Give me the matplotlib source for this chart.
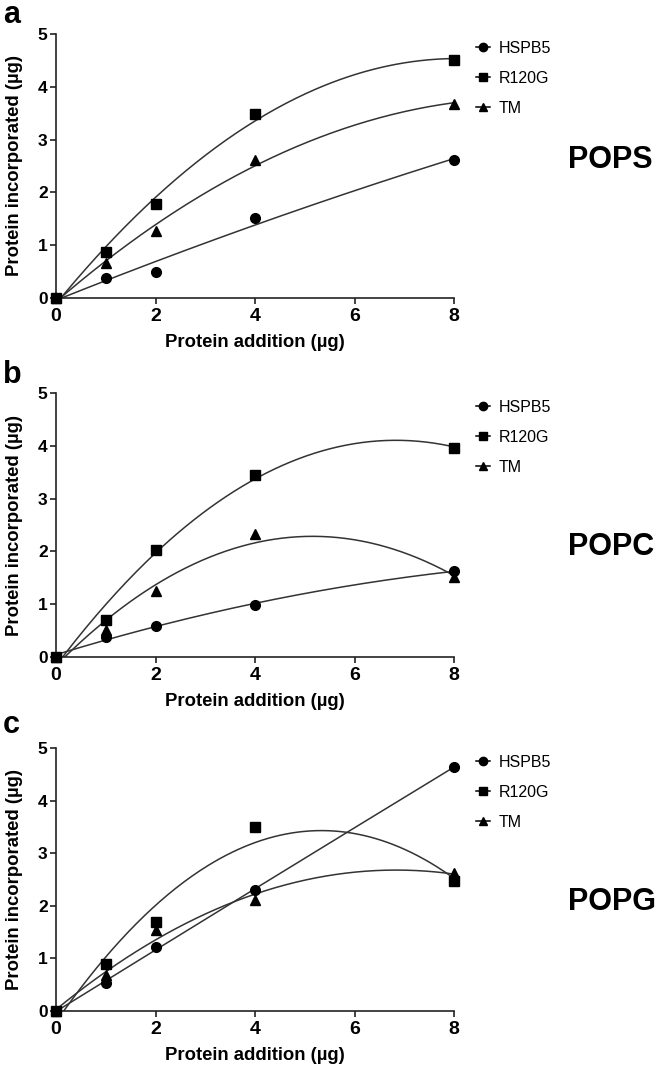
import numpy as np
import matplotlib.pyplot as plt
from matplotlib.lines import Line2D

plt.rcParams['font.family'] = ['Liberation Sans', 'DejaVu Sans']

dose = [0, 1, 2, 4, 8]
series = ['HSPB5', 'R120G', 'TM']
markers = {'HSPB5': 'o', 'R120G': 's', 'TM': '^'}

# protein incorporated (ug)
pops_hspb5 = [0, 0.38, 0.49, 1.51, 2.62]
pops_r120g = [0, 0.87, 1.78, 3.49, 4.51]
pops_tm = [0, 0.66, 1.27, 2.61, 3.68]

popc_hspb5 = [0, 0.38, 0.59, 0.98, 1.63]
popc_r120g = [0, 0.71, 2.03, 3.45, 3.96]
popc_tm = [0, 0.51, 1.25, 2.33, 1.51]

popg_hspb5 = [0, 0.53, 1.22, 2.30, 4.64]
popg_r120g = [0, 0.89, 1.69, 3.50, 2.47]
popg_tm = [0, 0.68, 1.54, 2.11, 2.62]

panels = [
    ('a', 'POPS', [pops_hspb5, pops_r120g, pops_tm]),
    ('b', 'POPC', [popc_hspb5, popc_r120g, popc_tm]),
    ('c', 'POPG', [popg_hspb5, popg_r120g, popg_tm]),
]

W, H = 657, 1068
fig = plt.figure(figsize=(W / 100, H / 100), dpi=100)

# axes boxes in pixels: (left, top, right, bottom)
boxes = [(56, 34, 454, 298), (56, 393, 454, 657), (56, 748, 454, 1011)]
label_y = [160, 547, 902]
letter_y = [0, 360, 710]

xs = np.linspace(0, 8, 200)
for (letter, lipid, data), (l, t, r, b), ly, lt in zip(panels, boxes, label_y, letter_y):
    ax = fig.add_axes([l / W, 1 - b / H, (r - l) / W, (b - t) / H])
    for name, y in zip(series, data):
        coef = np.polyfit(dose, y, 2)
        ax.plot(xs, np.polyval(coef, xs), color='#333333', lw=1.1)
        ax.plot(dose, y, linestyle='none', marker=markers[name], color='black',
                markersize=7 if name != 'R120G' else 7.5, clip_on=False, zorder=5)
    ax.set_xlim(0, 8)
    ax.set_ylim(0, 5)
    ax.set_xticks([0, 2, 4, 6, 8])
    ax.set_yticks([0, 1, 2, 3, 4, 5])
    for s in ['top', 'right']:
        ax.spines[s].set_visible(False)
    for s in ['left', 'bottom']:
        ax.spines[s].set_linewidth(1.2)
        ax.spines[s].set_color('#222222')
    ax.tick_params(length=4, width=1.2, color='#222222', pad=2)
    ax.tick_params(axis='x', pad=3)
    for lab in ax.get_xticklabels():
        lab.set_fontweight('bold')
        lab.set_fontsize(14)
    for lab in ax.get_yticklabels():
        lab.set_fontweight('bold')
        lab.set_fontsize(12.5)
    ax.set_xlabel('Protein addition (µg)', fontsize=13.3, fontweight='bold', labelpad=7)
    ax.set_ylabel('Protein incorporated (µg)', fontsize=13.3, fontweight='bold', labelpad=11)

    handles = [Line2D([], [], color='black', lw=1.1, marker=markers[n], markersize=6)
               for n in series]
    ax.legend(handles, series, loc='upper left', bbox_to_anchor=(1.055, 0.975),
              frameon=False, borderpad=0, borderaxespad=0, handlelength=0.9,
              handletextpad=0.5, labelspacing=0.95, fontsize=11.5)

    fig.text(568 / W, 1 - ly / H, lipid, fontsize=22, fontweight='bold', va='center', ha='left')
    fig.text(3 / W, 1 - lt / H, letter, fontsize=22, fontweight='bold', va='top', ha='left')

fig.savefig('out.png', dpi=100)
